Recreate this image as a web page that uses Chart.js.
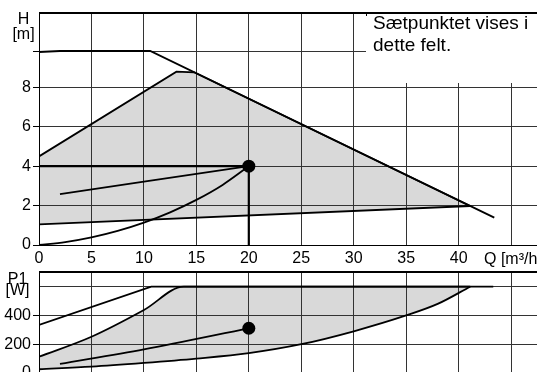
<!DOCTYPE html>
<html><head><meta charset="utf-8">
<script src="https://cdn.jsdelivr.net/npm/chart.js@4/dist/chart.umd.min.js"></script>
<style>
html,body{margin:0;padding:0;width:537px;height:372px;overflow:hidden;background:#fff;font-family:"Liberation Sans",Arial,sans-serif;}
.wrap{position:absolute;left:0;width:537px;}
#w1{top:0;height:270px;}
#w2{top:262px;height:118px;}
canvas{display:block;}
.lbl{position:absolute;color:#000;white-space:nowrap;font-family:"Liberation Sans",Arial,sans-serif;}
</style></head><body>
<div class="wrap" id="w1"><canvas id="c1" width="537" height="270"></canvas></div>
<div class="wrap" id="w2"><canvas id="c2" width="537" height="118"></canvas></div>
<div class="lbl" style="left:8px;top:10.7px;width:31px;text-align:center;font-size:16px;line-height:15.5px;">H<br>[m]</div>
<div class="lbl" style="left:2px;top:272.7px;width:31px;text-align:center;font-size:16px;line-height:11.5px;">P1<br>[W]</div>
<div class="lbl" style="left:484px;top:250px;font-size:16px;line-height:18px;">Q [m³/h]</div>
<div class="lbl" style="left:366px;top:14px;width:171px;height:69px;background:#fff;"></div>
<div class="lbl" style="left:366px;top:12px;width:0;height:4px;border-left:1px solid #000;"></div>
<div class="lbl" style="left:373px;top:12px;font-size:19px;line-height:22px;">Sætpunktet vises i<br>dette felt.</div>
<script>
// ---- data: upper chart (head H [m] vs flow Q [m3/h]) ----
const qTicks = [0, 5, 10, 15, 20, 25, 30, 35, 40, 45];
const qLabels = ['0', '5', '10', '15', '20', '25', '30', '35', '40', ''];
const hTicks = [0, 2, 4, 6, 8, 9.8, 11.83];
const hLabels = ['0', '2', '4', '6', '8', '', ''];
const pTicks = [0, 200, 400, 600, 709];
const pLabels = ['0', '200', '400', '', ''];

const maxHQ = [0, 2, 10.6, 43.4];
const maxHH = [9.8, 9.85, 9.85, 1.39];
const areaTopQ = [0, 13.1, 14.8, 41.1];
const areaTopH = [4.5, 8.8, 8.77, 1.98];
const areaBotQ = [0, 41.1];
const areaBotH = [1.05, 1.98];
const propHQ = [2, 10, 20];
const propHH = [2.58, 3.22, 4.0];
const sysQ = [0, 2.5, 5, 7.5, 10, 12.5, 15, 17.5, 20];
const sysH = [0, 0.15, 0.39, 0.72, 1.14, 1.66, 2.29, 3.05, 4.0];
const setQ = [0, 20, 20];
const setH = [4, 4, 0];
const pointQ = [20];
const pointH = [4];

// ---- data: lower chart (power P1 [W] vs flow Q) ----
const maxPQ = [0, 10.7, 43.3];
const maxPP = [334, 600, 600];
const pTopQ = [0, 5, 10, 13.8, 41.1];
const pTopP = [113, 252, 438, 600, 600];
const pBotQ = [0, 5, 10, 15, 20, 25, 30, 35, 38, 41.1];
const pBotP = [26, 44, 70, 100, 138, 200, 290, 400, 480, 600];
const propPQ = [2, 10, 20];
const propPP = [63, 165, 311];
const pointPQ = [20];
const pointPP = [311];

Chart.defaults.font.family = '"Liberation Sans", Arial, sans-serif';
Chart.defaults.color = '#000';

const topFrame = {
  id: 'topFrame',
  afterDraw(chart) {
    const ctx = chart.ctx, a = chart.chartArea;
    ctx.save();
    ctx.fillStyle = '#000';
    ctx.fillRect(Math.round(a.left), Math.round(a.top), Math.round(a.right - a.left), 2);
    ctx.restore();
  }
};

const xy = (xs, ys) => xs.map((x, i) => ({x: x, y: ys[i]}));
const lineDs = (xs, ys, extra) => Object.assign({
  data: xy(xs, ys), borderColor: '#000', borderWidth: 1.8, pointRadius: 0,
  fill: false, tension: 0
}, extra || {});

function xScale(showLabels, h) {
  return {
    type: 'linear', min: 0, max: 47.47,
    afterBuildTicks: s => { s.ticks = qTicks.map(v => ({value: v})); },
    ticks: {display: showLabels, autoSkip: false, maxRotation: 0, padding: 4,
      font: {size: 16}, color: '#000', callback: (v, i) => qLabels[i]},
    grid: {color: '#333', lineWidth: 1, drawTicks: false},
    border: {display: true, color: '#000', width: 1},
    afterFit: s => { s.height = h; s.paddingLeft = 0; s.paddingRight = 0; }
  };
}
function yScale(min, max, ticks, labels, keepIdx) {
  return {
    type: 'linear', min: min, max: max,
    afterBuildTicks: s => { s.ticks = ticks.map(v => ({value: v})); },
    ticks: {autoSkip: false, padding: 2, font: {size: 16}, color: '#000',
      callback: (v, i) => labels[i]},
    grid: {color: '#333', lineWidth: 1, tickLength: 6,
      tickColor: c => (labels[c.index] === '' && c.index !== keepIdx) ? 'rgba(0,0,0,0)' : '#000'},
    border: {display: true, color: '#000', width: 1},
    afterFit: s => { s.width = 39; s.paddingTop = 0; s.paddingBottom = 0; }
  };
}

const commonOpts = (top, bottom) => ({
  responsive: false, animation: false, events: [],
  layout: {autoPadding: false, padding: {top: top, left: 0, right: 0, bottom: bottom}},
  plugins: {legend: {display: false}, tooltip: {enabled: false}, filler: {drawTime: 'beforeDraw'}}
});

new Chart(document.getElementById('c1'), {
  type: 'line',
  data: {datasets: [
    lineDs(areaTopQ, areaTopH, {fill: '+1', backgroundColor: '#d9d9d9'}),
    lineDs(areaBotQ, areaBotH),
    lineDs(maxHQ, maxHH),
    lineDs(propHQ, propHH),
    lineDs(sysQ, sysH, {cubicInterpolationMode: 'monotone'}),
    lineDs(setQ, setH, {borderWidth: 2.2}),
    lineDs(pointQ, pointH, {showLine: false, pointRadius: 6.5, pointBackgroundColor: '#000', pointBorderWidth: 0})
  ]},
  options: Object.assign(commonOpts(12, 0), {
    scales: {x: xScale(true, 25), y: yScale(0, 11.83, hTicks, hLabels, 5)}
  }),
  plugins: [topFrame]
});

new Chart(document.getElementById('c2'), {
  type: 'line',
  data: {datasets: [
    lineDs(pTopQ, pTopP, {fill: '+1', backgroundColor: '#d9d9d9', cubicInterpolationMode: 'monotone'}),
    lineDs(pBotQ, pBotP, {cubicInterpolationMode: 'monotone'}),
    lineDs(maxPQ, maxPP),
    lineDs(propPQ, propPP, {cubicInterpolationMode: 'monotone'}),
    lineDs(pointPQ, pointPP, {showLine: false, pointRadius: 6.5, pointBackgroundColor: '#000', pointBorderWidth: 0})
  ]},
  options: Object.assign(commonOpts(9, 0), {
    scales: {x: xScale(false, 7), y: yScale(0, 709, pTicks, pLabels, -1)}
  }),
  plugins: [topFrame]
});
</script>
</body></html>
